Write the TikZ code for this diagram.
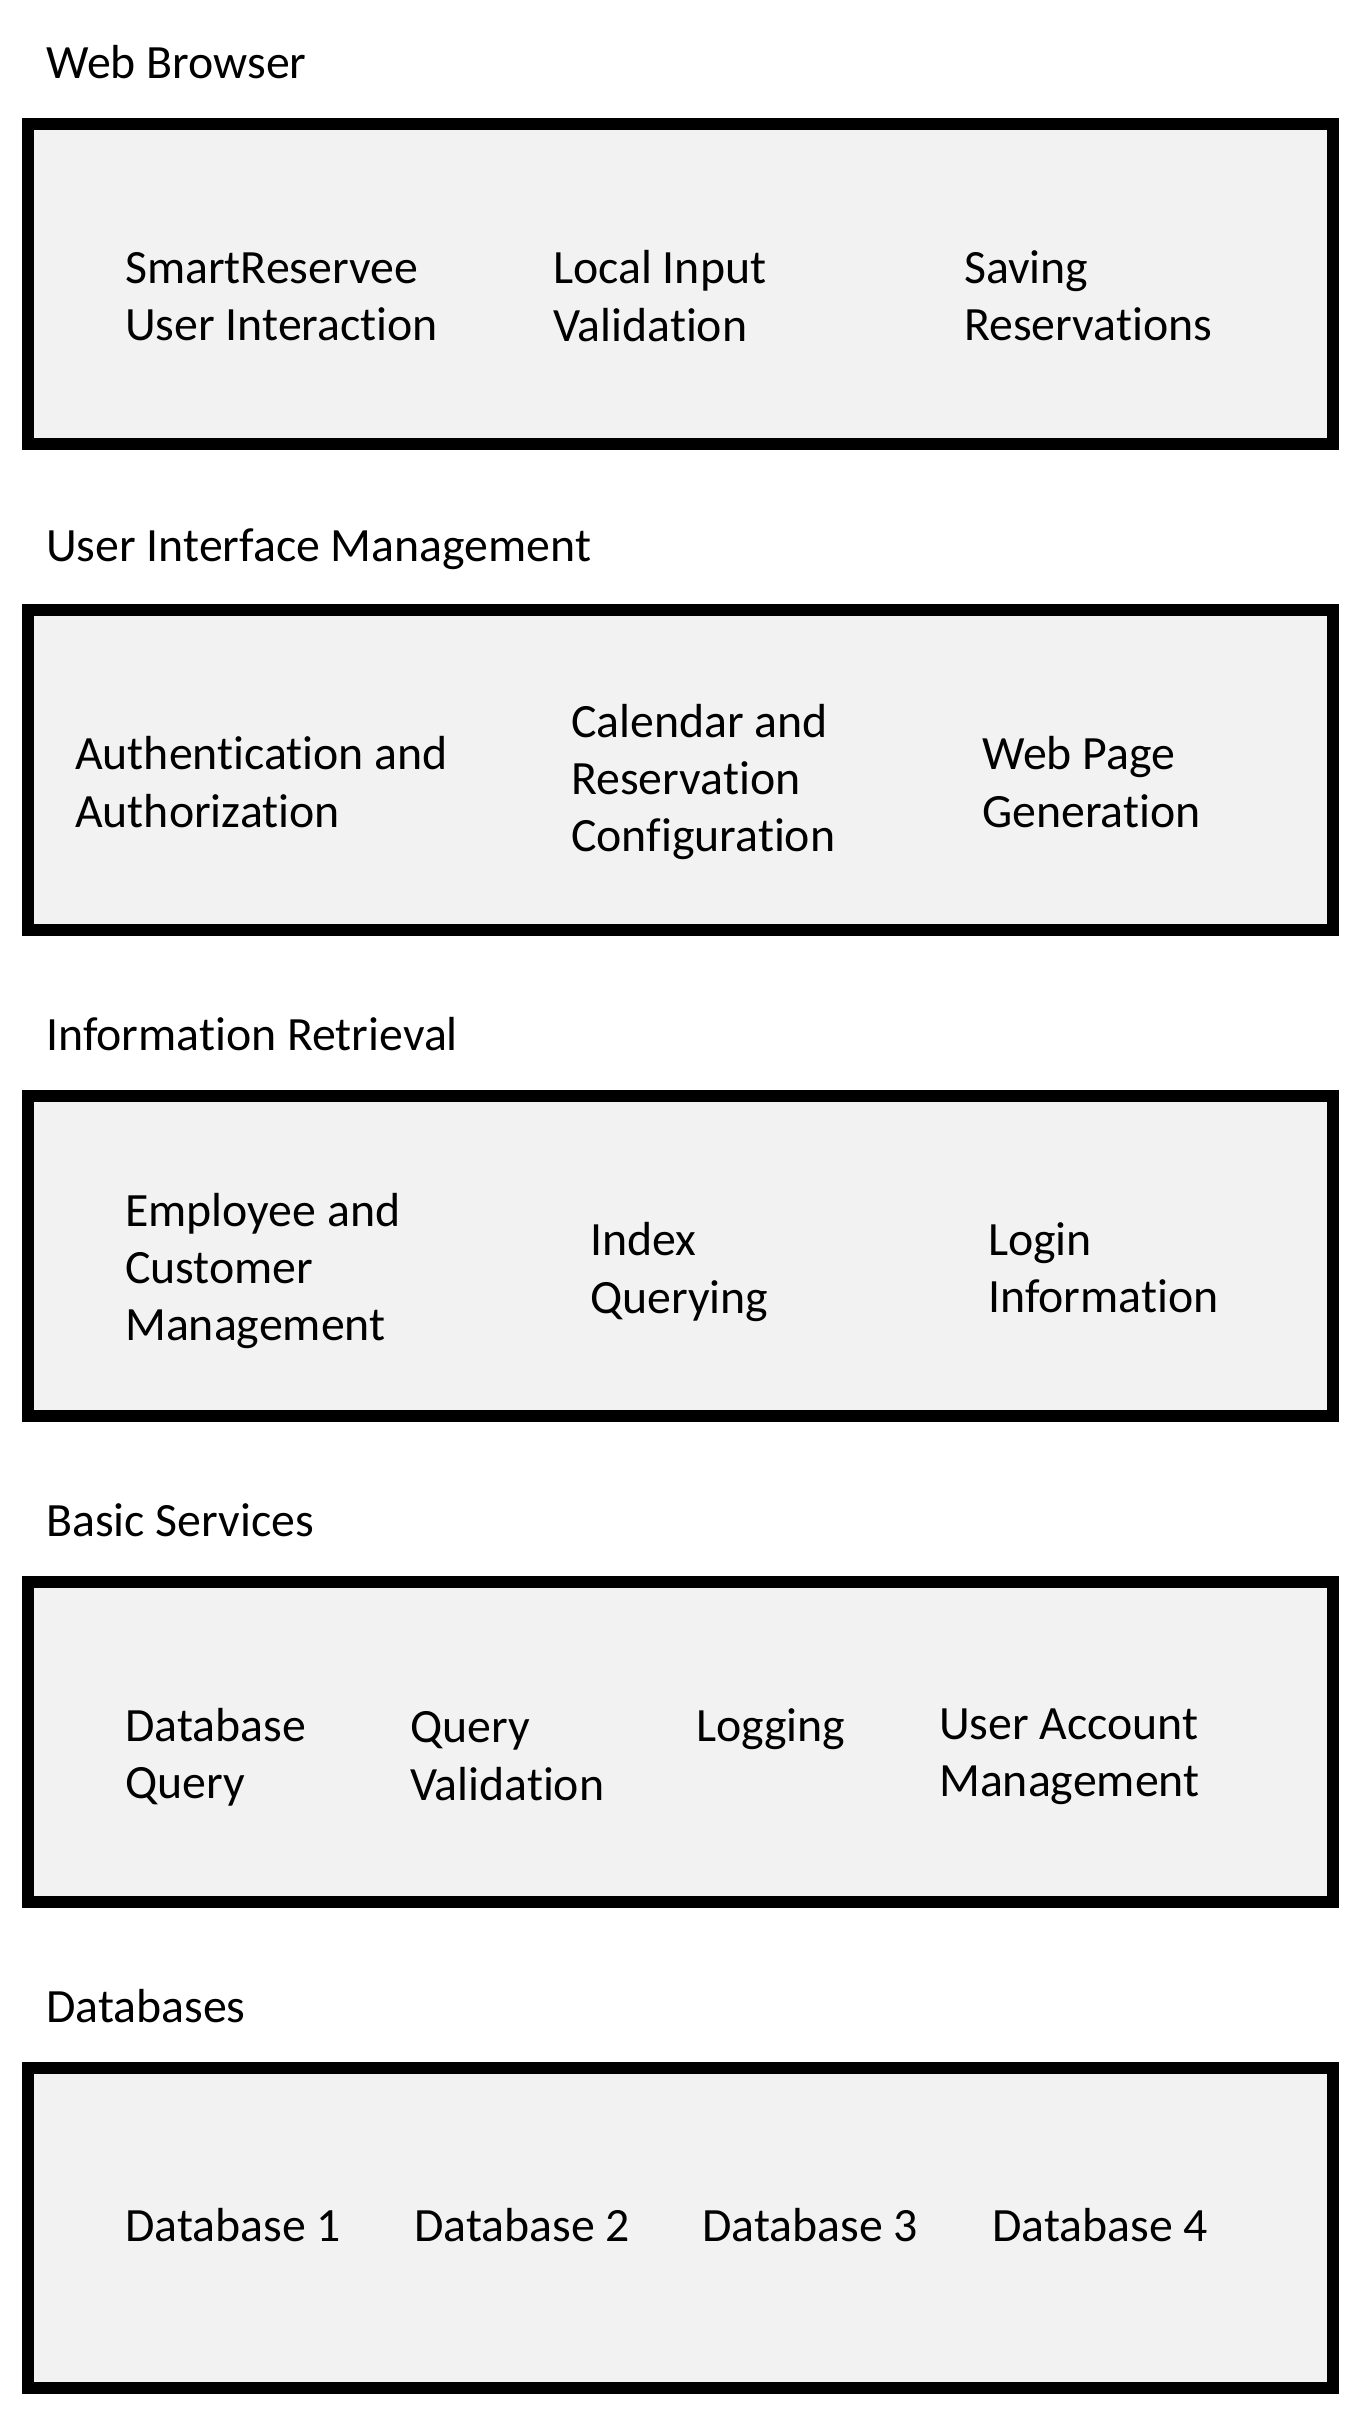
\documentclass[tikz,border=0pt]{standalone}
\usepackage{fontspec}
\setmainfont{Carlito}[Ligatures=NoCommon]
\usepackage{tikz}
\usetikzlibrary{positioning}
\usepackage{xcolor}
\definecolor{layergray}{HTML}{F2F2F2}

\begin{document}
\begin{tikzpicture}[x=1pt, y=1pt,
        layerbox/.style={draw=black, fill=layergray, line width=12pt,
            minimum width=1305pt, minimum height=320pt, inner sep=0pt},
        title/.style={anchor=west, inner sep=0pt, font=\fontsize{47.8}{57.3}\selectfont},
        part/.style={anchor=west, align=left, inner sep=0pt, font=\fontsize{47.8}{57.3}\selectfont}]

        \useasboundingbox (0,0) rectangle (1358,-2414);

        % Web Browser layer
        \node[title] (t1) at (46, -62) {Web Browser};
        \node[layerbox] (l1) at (680.5, -284) {};
        \node[part] (p11) at (125, -297) {SmartReservee\\User Interaction};
        \node[part] (p12) at (553, -296) {Local Input\\Validation};
        \node[part] (p13) at (964, -296) {Saving\\Reservations};

        % User Interface Management layer
        \node[title] (t2) at (46, -549) {User Interface Management};
        \node[layerbox] (l2) at (680.5, -770) {};
        \node[part] (p21) at (75, -782) {Authentication and\\Authorization};
        \node[part] (p22) at (571, -782) {Calendar and\\Reservation\\Configuration};
        \node[part] (p23) at (982, -782) {Web Page\\Generation};

        % Information Retrieval layer
        \node[title] (t3) at (46, -1034) {Information Retrieval};
        \node[layerbox] (l3) at (680.5, -1256) {};
        \node[part] (p31) at (125, -1271) {Employee and\\Customer\\Management};
        \node[part] (p32) at (590, -1272) {Index\\Querying};
        \node[part] (p33) at (988, -1268) {Login\\Information};

        % Basic Services layer
        \node[title] (t4) at (46, -1520) {Basic Services};
        \node[layerbox] (l4) at (680.5, -1742) {};
        \node[part] (p41) at (125, -1757) {Database\\Query};
        \node[part] (p42) at (410, -1756) {Query\\Validation};
        \node[part] (p43) at (696, -1729) {Logging};
        \node[part] (p44) at (939, -1757) {User Account\\Management};

        % Databases layer
        \node[title] (t5) at (46, -2006) {Databases};
        \node[layerbox] (l5) at (680.5, -2228) {};
        \node[part] (p51) at (125, -2225) {Database 1};
        \node[part] (p52) at (414, -2225) {Database 2};
        \node[part] (p53) at (702, -2225) {Database 3};
        \node[part] (p54) at (992, -2225) {Database 4};

    \end{tikzpicture}
\end{document}
